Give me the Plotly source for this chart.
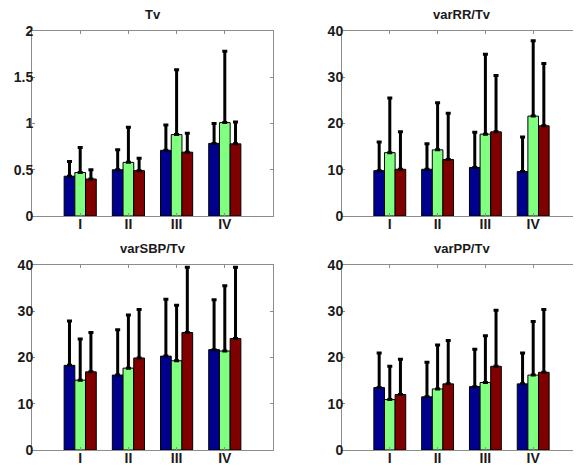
import plotly.graph_objects as go

# page body has an 8px default margin: figure is sized to fit the 581x466 window
OFF = 8
W, H = 581 - OFF, 466 - OFF

categories = ["I", "II", "III", "IV"]
series_names = ["Group 1", "Group 2", "Group 3"]
colors = ["#00008F", "#80FF80", "#800000"]

titles = ["Tv", "varRR/Tv", "varSBP/Tv", "varPP/Tv"]

# means per panel: [blue, green, red] each over I..IV
tv_mean = [[0.43, 0.50, 0.71, 0.785], [0.47, 0.58, 0.88, 1.01], [0.40, 0.49, 0.69, 0.78]]
tv_top = [[0.59, 0.715, 0.985, 1.0], [0.74, 0.96, 1.58, 1.78], [0.50, 0.625, 0.895, 1.015]]

rr_mean = [[9.8, 10.1, 10.5, 9.6], [13.7, 14.3, 17.7, 21.6], [10.1, 12.2, 18.2, 19.5]]
rr_top = [[16.0, 15.6, 18.1, 17.1], [25.5, 24.5, 35.0, 37.9], [18.2, 22.2, 30.4, 33.0]]

sbp_mean = [[18.3, 16.2, 20.3, 21.7], [15.1, 17.7, 19.3, 21.4], [16.9, 19.9, 25.4, 24.1]]
sbp_top = [[27.9, 26.0, 32.6, 32.5], [24.0, 29.2, 31.3, 35.5], [25.4, 30.4, 39.5, 39.5]]

pp_mean = [[13.5, 11.5, 13.7, 14.3], [10.9, 13.2, 14.6, 16.2], [12.0, 14.3, 18.1, 16.8]]
pp_top = [[21.0, 19.0, 21.8, 21.0], [18.1, 22.7, 24.7, 27.8], [19.6, 23.7, 30.2, 30.4]]

panels = [(tv_mean, tv_top), (rr_mean, rr_top), (sbp_mean, sbp_top), (pp_mean, pp_top)]
yranges = [[0, 2], [0, 40], [0, 40], [0, 40]]
ydticks = [0.5, 10, 10, 10]

# page-pixel boxes (left, right, top, bottom)
boxes = [(32, 273, 31, 216), (342, 582, 31, 216), (32, 273, 265, 450), (342, 582, 265, 450)]

fig = go.Figure()
font_family = "Liberation Sans, Arial, sans-serif"

for i, (means, tops) in enumerate(panels):
    n = "" if i == 0 else str(i + 1)
    for s in range(3):
        err = [t - m for t, m in zip(tops[s], means[s])]
        fig.add_trace(go.Bar(
            x=categories, y=means[s], name=series_names[s],
            marker=dict(color=colors[s], line=dict(color="black", width=1)),
            error_y=dict(type="data", array=err, symmetric=False,
                         arrayminus=[0] * 4, color="black", thickness=3, width=2.5),
            xaxis="x" + n, yaxis="y" + n, showlegend=False,
            offsetgroup=str(s),
        ))
    l, r, t, b = [v - OFF for v in boxes[i]]
    axis_common = dict(showline=True, linecolor="#8c8c8c", linewidth=1, mirror="allticks",
                       ticks="inside", ticklen=3, tickcolor="#8c8c8c",
                       tickfont=dict(family=font_family, size=14, color="#1a1a1a", weight="bold"),
                       showgrid=False, zeroline=False, fixedrange=True, automargin=False)
    fig.update_layout(**{
        "xaxis" + n: dict(domain=[l / W, min(r / W, 1)], anchor="y" + n, type="category",
                          range=[-1, 4], ticklabelstandoff=-5, **axis_common),
        "yaxis" + n: dict(domain=[1 - b / H, 1 - t / H], anchor="x" + n,
                          range=yranges[i], dtick=ydticks[i], tick0=0,
                          ticklabelstandoff=-5, **axis_common),
    })
    fig.add_annotation(text="<b>" + titles[i] + "</b>", x=(l + r) / 2 / W, y=1 - (t - 17) / H,
                       xref="paper", yref="paper", showarrow=False, xanchor="center",
                       yanchor="middle",
                       font=dict(family=font_family, size=13, color="#1a1a1a"))

fig.update_layout(width=W, height=H, margin=dict(l=0, r=0, t=0, b=0, autoexpand=False),
                  barmode="group", bargap=0.333, bargroupgap=0,
                  paper_bgcolor="white", plot_bgcolor="white")

fig.write_html("out.html")
